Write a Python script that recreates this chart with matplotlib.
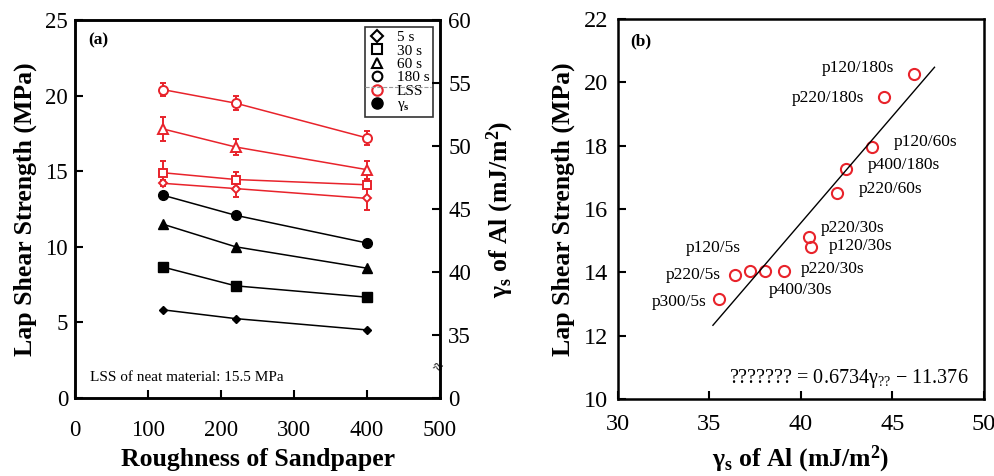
import matplotlib
matplotlib.use('Agg')
import matplotlib.pyplot as plt
from matplotlib.lines import Line2D

plt.rcParams['font.family'] = ['Liberation Serif', 'DejaVu Serif']
plt.rcParams['mathtext.fontset'] = 'custom'
plt.rcParams['mathtext.rm'] = 'Liberation Serif'
plt.rcParams['mathtext.it'] = 'Liberation Serif:italic'
plt.rcParams['mathtext.bf'] = 'Liberation Serif:bold'

# ---- panel (a) data ----
grit = [120, 220, 400]

lss_5s = [14.2, 13.85, 13.2]
lss_30s = [14.9, 14.45, 14.1]
lss_60s = [17.8, 16.6, 15.1]
lss_180s = [20.4, 19.5, 17.2]
err_5s = [0.2, 0.55, 0.75]
err_30s = [0.8, 0.5, 0.3]
err_60s = [0.8, 0.5, 0.6]
err_180s = [0.45, 0.45, 0.45]

gam_5s = [37.0, 36.3, 35.4]
gam_30s = [40.4, 38.9, 38.0]
gam_60s = [43.8, 42.0, 40.3]
gam_180s = [46.1, 44.5, 42.3]

# ---- panel (b) data ----
gamma_b = [46.2, 44.55, 43.9, 42.45, 42.0, 40.45, 40.55, 37.2, 36.4, 35.55, 39.1, 38.05]
lss_b = [20.25, 19.55, 17.95, 17.25, 16.5, 15.1, 14.8, 14.05, 13.9, 13.15, 14.05, 14.05]
labels_b = ['p120/180s', 'p220/180s', 'p120/60s', 'p400/180s', 'p220/60s', 'p220/30s',
            'p120/30s', 'p120/5s', 'p220/5s', 'p300/5s', 'p220/30s', 'p400/30s']
fit_slope, fit_icpt = 0.6734, -11.376
fit_x = [35.2, 47.3]

red = '#e8232b'

fig = plt.figure(figsize=(9.95, 4.76), dpi=100)
ax = fig.add_axes([0.0754, 0.1639, 0.3668, 0.7941])
ax2 = ax.twinx()

# red LSS curves with error bars
for y, e, mk, ms in [(lss_5s, err_5s, 'D', 4.5), (lss_30s, err_30s, 's', 6),
                     (lss_60s, err_60s, '^', 7), (lss_180s, err_180s, 'o', 6.5)]:
    ax.errorbar(grit, y, yerr=e, color=red, marker=mk, ms=ms, mfc='white', mec=red,
                mew=1.4, lw=1.1, capsize=2.5, elinewidth=1.4, capthick=1.4, zorder=3)

# black surface energy curves
for y, mk, ms in [(gam_5s, 'D', 4.5), (gam_30s, 's', 6.5), (gam_60s, '^', 7.5),
                  (gam_180s, 'o', 7)]:
    ax2.plot(grit, y, color='k', marker=mk, ms=ms, lw=1.1)

ax.set_xlim(0, 500)
ax.set_ylim(0, 25)
ax2.set_ylim(30, 60)
ax.set_xticks([0, 100, 200, 300, 400, 500])
ax.set_yticks([0, 5, 10, 15, 20, 25])
ax2.set_yticks([30, 35, 40, 45, 50, 55, 60])
ax2.set_yticklabels(['0', '35', '40', '45', '50', '55', '60'])
ax.tick_params(axis='x', direction='in', length=6, width=1.5, labelsize=16.5, pad=16)
ax.tick_params(axis='y', direction='in', length=6, width=1.5, labelsize=16.5, pad=5)
ax2.tick_params(axis='y', direction='in', length=6, width=1.5, labelsize=16.5, pad=6)
for a in (ax, ax2):
    for s in a.spines.values():
        s.set_linewidth(1.8)

ax.set_xlabel('Roughness of Sandpaper', fontsize=18.5, fontweight='bold', labelpad=5)
ax.set_ylabel('Lap Shear Strength (MPa)', fontsize=18.5, fontweight='bold', labelpad=6)
ax2.set_ylabel(r'γ$_\mathbf{s}$ of Al (mJ/m$^\mathbf{2}$)', fontsize=18.5,
               fontweight='bold', labelpad=10)

ax.text(0.035, 0.945, '(a)', transform=ax.transAxes, fontsize=12.5, fontweight='bold',
        ha='left', va='center')
ax.text(0.04, 0.055, 'LSS of neat material: 15.5 MPa', transform=ax.transAxes,
        fontsize=11, ha='left', va='center')
ax.text(0.99, 0.079, '≈', transform=ax.transAxes, fontsize=13, ha='center',
        va='center', rotation=-20)

handles = [Line2D([], [], ls='none', marker='D', ms=6, mfc='white', mec='k', mew=1.5),
           Line2D([], [], ls='none', marker='s', ms=7, mfc='white', mec='k', mew=1.5),
           Line2D([], [], ls='none', marker='^', ms=7.5, mfc='white', mec='k', mew=1.5),
           Line2D([], [], ls='none', marker='o', ms=7, mfc='white', mec='k', mew=1.5),
           Line2D([], [], ls='none', marker='o', ms=7.5, mfc='white', mec=red, mew=1.5),
           Line2D([], [], ls='none', marker='o', ms=8, mfc='k', mec='k')]
leg = ax.legend(handles, ['5 s', '30 s', '60 s', '180 s', 'LSS', r'γ$_\mathbf{s}$'],
                loc='upper right', bbox_to_anchor=(0.981, 0.982), fontsize=11,
                frameon=True, fancybox=False, edgecolor='k', handlelength=1.0,
                handletextpad=0.8, labelspacing=-0.02, borderpad=0.25,
                borderaxespad=0.0)
leg.get_frame().set_linewidth(1.2)
ax.plot([0.795, 0.975], [0.823, 0.823], transform=ax.transAxes, color='#999999',
        lw=0.8, ls='--', clip_on=False, zorder=10)

# ---- panel (b) ----
bx = fig.add_axes([0.6208, 0.1618, 0.3681, 0.7983])
bx.plot(gamma_b, lss_b, ls='none', marker='o', ms=8, mfc='none', mec=red, mew=1.5)
fx = [fit_x[0], fit_x[1]]
bx.plot(fx, [fit_slope * v + fit_icpt for v in fx], color='k', lw=1.0)

offsets = [(-20, -6, 'right'), (-20, 1, 'right'), (22, -5, 'left'), (22, -4, 'left'),
           (21, -4, 'left'), (12, -9, 'left'), (18, -1, 'left'), (-9, -23, 'right'),
           (-14, 0, 'right'), (-13, 3, 'right'), (16, -2, 'left'), (4, 19, 'left')]
for g, l, lab, (dx, dy, ha) in zip(gamma_b, lss_b, labels_b, offsets):
    bx.annotate(lab, xy=(g, l), xytext=(dx * 0.72, -dy * 0.72),
                textcoords='offset points', ha=ha, va='center', fontsize=12.5)

bx.text(0.305, 0.055, '??????? = 0.6734γ$_{??}$ − 11.376', transform=bx.transAxes,
        fontsize=14.5, ha='left', va='center', clip_on=False)
bx.text(0.034, 0.94, '(b)', transform=bx.transAxes, fontsize=12.5, fontweight='bold',
        ha='left', va='center')

bx.set_xlim(30, 50)
bx.set_ylim(10, 22)
bx.set_xticks([30, 35, 40, 45, 50])
bx.set_yticks([10, 12, 14, 16, 18, 20, 22])
bx.tick_params(direction='in', length=6, width=1.5, labelsize=17.5)
bx.tick_params(axis='x', pad=11)
bx.tick_params(axis='y', pad=7)
for s in bx.spines.values():
    s.set_linewidth(1.8)
bx.set_xlabel(r'γ$_\mathbf{s}$ of Al (mJ/m$^\mathbf{2}$)', fontsize=18.5,
              fontweight='bold', labelpad=6)
bx.set_ylabel('Lap Shear Strength (MPa)', fontsize=18.5, fontweight='bold', labelpad=6)

fig.savefig('out.png', dpi=100)
